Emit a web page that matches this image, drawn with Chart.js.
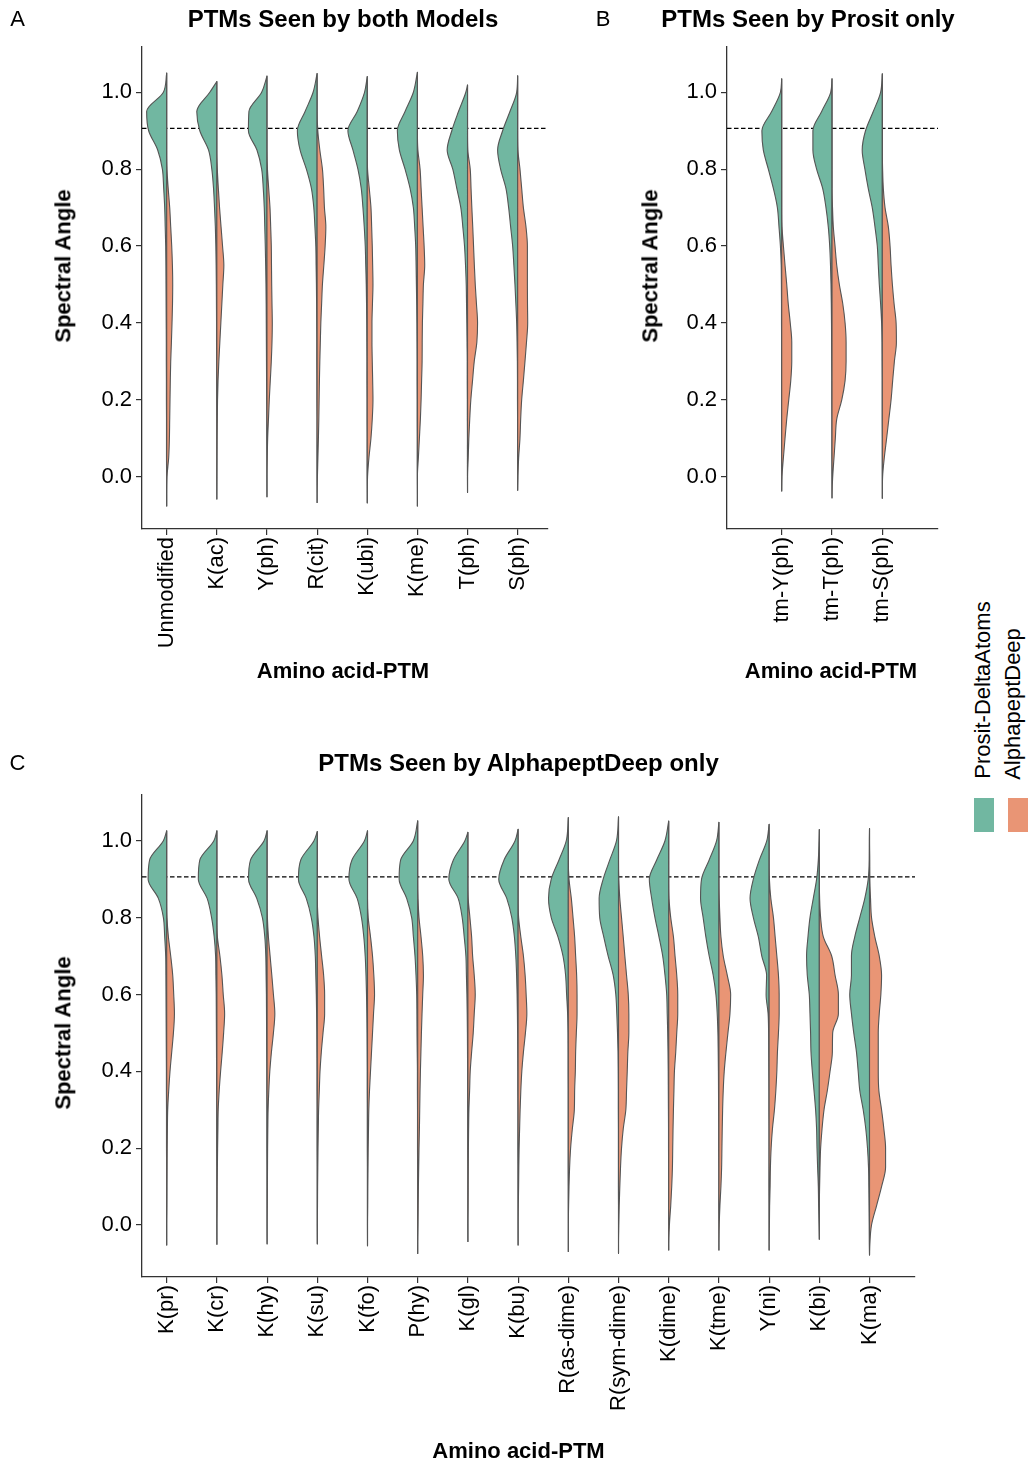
<!DOCTYPE html>
<html><head><meta charset="utf-8">
<script src="https://cdn.jsdelivr.net/npm/chart.js@4.4.1/dist/chart.umd.min.js"></script>
<style>
body{margin:0;background:#fff;}
#page{position:relative;width:1032px;height:1467px;overflow:hidden;font-family:'Liberation Sans',Arial,Helvetica,sans-serif;color:#000;background:#fff;}
canvas{position:absolute;}
.t{position:absolute;white-space:nowrap;transform:translate(-50%,-50%);line-height:1.15;}
.r{transform:translate(-50%,-50%) rotate(-90deg);}
.b{font-weight:bold;}
.sw{position:absolute;}
</style></head><body><div id="page">
<canvas id="cA" width="560" height="700" style="left:0;top:0"></canvas>
<canvas id="cB" width="370" height="700" style="left:580px;top:0"></canvas>
<canvas id="cC" width="930" height="727" style="left:0;top:740px"></canvas>

<div class="t" style="left:17.5px;top:19px;font-size:22px">A</div>
<div class="t b" style="left:343px;top:19px;font-size:24px">PTMs Seen by both Models</div>
<div class="t" style="left:603px;top:19px;font-size:22px">B</div>
<div class="t b" style="left:808px;top:19px;font-size:24px">PTMs Seen by Prosit only</div>
<div class="t" style="left:17.5px;top:763px;font-size:22px">C</div>
<div class="t b" style="left:518.5px;top:763px;font-size:24px">PTMs Seen by AlphapeptDeep only</div>

<div class="t b r" style="left:63px;top:266px;font-size:22px">Spectral Angle</div>
<div class="t b r" style="left:650px;top:266px;font-size:22px">Spectral Angle</div>
<div class="t b r" style="left:63px;top:1033px;font-size:22px">Spectral Angle</div>
<div class="t b" style="left:343px;top:671px;font-size:22px">Amino acid-PTM</div>
<div class="t b" style="left:831px;top:671px;font-size:22px">Amino acid-PTM</div>
<div class="t b" style="left:518.5px;top:1451px;font-size:22px">Amino acid-PTM</div>

<div class="t r" style="left:983px;top:690px;font-size:22px">Prosit-DeltaAtoms</div>
<div class="t r" style="left:1013px;top:703.5px;font-size:22px">AlphapeptDeep</div>
<div class="sw" style="left:974px;top:798px;width:20px;height:34px;background:#71b7a1"></div>
<div class="sw" style="left:1008px;top:798px;width:20px;height:34px;background:#e99575"></div>
</div>
<script>
// ---------------- data ----------------
const gridY = [1.0,0.95,0.9,0.85,0.8,0.75,0.7,0.65,0.6,0.55,0.5,0.45,0.4,0.35,0.3,0.25,0.2,0.15,0.1,0.05,0.0,-0.05];
const yTicks = [0,0.2,0.4,0.6,0.8,1.0];
const refLine = 0.906;
const seriesNames = ['Prosit-DeltaAtoms','AlphapeptDeep'];

const catsA = ['Unmodified','K(ac)','Y(ph)','R(cit)','K(ubi)','K(me)','T(ph)','S(ph)'];
const rangeA = [[-0.076,1.050],[-0.058,1.028],[-0.052,1.042],[-0.067,1.049],[-0.068,1.041],[-0.076,1.052],[-0.041,1.019],[-0.035,1.043]];
const prositA = [
 [3.3,20,18,9,4.3,3,2,1.5,1,0.8,0.7,0.6,0.5,0.4,0.4,0.3,0.3,0.2,0.2,0.2,0.1,0.1],
 [7,20,17,8.3,5,3.3,2.3,1.5,1,0.7,0.5,0.4,0.3,0.3,0.2,0.2,0.2,0.1,0.1,0.1,0.1,0],
 [5.3,18,18.5,10,5.3,3.7,2.7,2.2,1.7,1.3,1,0.8,0.7,0.6,0.5,0.4,0.3,0.2,0.2,0.1,0.1,0],
 [4,12,19.7,17,10.7,5.7,3.3,2.2,1.3,1,0.7,0.5,0.4,0.3,0.3,0.2,0.2,0.1,0.1,0.1,0.1,0],
 [2.7,10,19.3,14.3,9.3,6,4.3,3,2,1.5,1,0.7,0.5,0.4,0.3,0.3,0.2,0.2,0.1,0.1,0.1,0],
 [4,12.3,20,18,12.3,7.3,4,2.7,1.7,1.3,1,0.7,0.5,0.4,0.3,0.3,0.2,0.2,0.1,0.1,0.1,0],
 [1.7,9,15.7,20.3,14.7,10.7,6.7,4.7,3,2,1.3,1,0.7,0.5,0.3,0.3,0.2,0.2,0.1,0.1,0.1,0],
 [1,7.7,15,20,17,11.7,9,7,5,3.8,2.7,1.8,1,0.6,0.3,0.2,0.2,0.1,0.1,0.1,0,0]
];
const alphaA = [
 [0,0,0,0,0.3,1.5,3,4,5,5.7,6,5.8,5.3,4.7,4,3.6,3.3,3,2.7,2,0.3,0],
 [0,0,0,0,0.5,1.5,2.7,4.2,5.7,7,6,5,4,3,2,1.2,0.7,0.5,0.3,0.2,0.1,0],
 [0,0,0,0,0.5,1.7,3,3.7,4.3,4.5,4.7,5,5.3,5,4.3,3.3,2.3,1.5,0.7,0.3,0,0],
 [0,0,0.7,2.7,5.3,6.5,7.3,8.7,8,6.7,5.3,4.5,3.7,3.2,2.7,2.3,2,1.7,1.3,0.8,0.3,0],
 [0,0,0,0,0.3,2,3.7,4.4,5,5.4,5.7,5.2,4.7,4.7,5,5.4,5.7,5,3.7,1.7,0.3,0],
 [0,0,0,0.5,2.7,3.7,4.7,5.7,6.7,7.3,6,5.5,5,4.8,4.7,4.2,3.7,3,2,1,0,0],
 [0,0,0,0.3,2.7,3.5,4.3,5.2,6,6.8,7.7,8.9,10,9.3,6.7,5,3.3,2.2,1.3,0.7,0,0],
 [0,0,0,0.3,2.3,4,5.7,8.3,9.7,9.7,9.7,9.8,10,8.8,7.3,5.7,4,3,2.3,1,0.3,0]
];

const catsB = ['tm-Y(ph)','tm-T(ph)','tm-S(ph)'];
const rangeB = [[-0.037,1.035],[-0.055,1.035],[-0.056,1.048]];
const prositB = [
 [1.3,10,19.7,18.3,13.3,8.3,4.3,2.7,1.3,0.5,0.3,0.2,0.2,0.1,0.1,0.1,0.1,0.1,0.1,0.1,0,0],
 [1.3,10.3,19,19,15.3,9.3,6,3.7,2.3,1.5,1,0.7,0.5,0.4,0.3,0.2,0.2,0.1,0.1,0.1,0,0],
 [1.7,9,16.7,20,17.3,14,10,7.3,5,4,3,1.7,0.7,0.3,0.2,0.1,0.1,0.1,0,0,0,0]
];
const alphaB = [
 [0,0,0,0,0,0,0,0.3,1.7,3.3,5,6.5,8.5,10,10,9,7,5,3.3,1.7,0.3,0],
 [0,0,0,0,0,0,0.5,1.3,3,4.7,7.3,10.7,13,14,14,13,9.7,4.7,3.3,2,0.7,0],
 [0,0,0,0,0.3,1,2.7,6,7.7,8.7,10,11.7,13.7,14,12,10.3,8.7,6.5,4.3,2,0.3,0]
];

const catsC = ['K(pr)','K(cr)','K(hy)','K(su)','K(fo)','P(hy)','K(gl)','K(bu)','R(as-dime)','R(sym-dime)','K(dime)','K(tme)','Y(ni)','K(bi)','K(ma)'];
const rangeC = [[-0.052,1.026],[-0.050,1.026],[-0.049,1.026],[-0.049,1.024],[-0.054,1.026],[-0.074,1.052],[-0.043,1.022],[-0.052,1.030],[-0.069,1.060],[-0.074,1.062],[-0.065,1.051],[-0.065,1.048],[-0.065,1.043],[-0.037,1.029],[-0.078,1.032]];
const prositC = [
 [3.3,17,18.5,8.3,3.3,2,1,0.8,0.7,0.6,0.5,0.4,0.3,0.3,0.2,0.2,0.2,0.1,0.1,0.1,0.1,0],
 [3,17,18.5,9.7,5.3,2.7,1.3,1,0.7,0.6,0.5,0.4,0.3,0.3,0.2,0.2,0.2,0.1,0.1,0.1,0.1,0],
 [3,16.5,18.5,10.3,4.7,2.3,1.3,1,0.7,0.6,0.5,0.4,0.3,0.3,0.2,0.2,0.2,0.1,0.1,0.1,0.1,0],
 [3.3,16.5,18.8,11,6,3.3,2,1.5,1,0.7,0.5,0.4,0.3,0.3,0.2,0.2,0.2,0.1,0.1,0.1,0.1,0],
 [3,15.5,18.5,10.3,6,3.7,2.3,1.5,1,0.7,0.5,0.4,0.3,0.3,0.2,0.2,0.2,0.1,0.1,0.1,0.1,0],
 [4.3,17,18.5,11,6,4.3,2.7,1.7,1,0.8,0.7,0.5,0.3,0.3,0.2,0.2,0.2,0.1,0.1,0.1,0.1,0],
 [3,14.5,19,9.7,5.7,3.7,2,1.5,1,0.7,0.5,0.4,0.3,0.3,0.2,0.2,0.2,0.1,0.1,0.1,0.1,0],
 [3,14,19.3,11.3,6.3,3.7,2.3,1.5,1,0.7,0.5,0.4,0.3,0.3,0.2,0.2,0.2,0.1,0.1,0.1,0.1,0],
 [2,9.3,17,19.7,17,10.3,5.3,2.7,1.7,0.7,0.3,0.2,0.2,0.1,0.1,0.1,0.1,0.1,0,0,0,0],
 [2,8.7,15.3,19.3,18.7,14.7,10.3,5.3,2.7,1.7,1,0.5,0.3,0.2,0.2,0.1,0.1,0.1,0.1,0,0,0],
 [3.7,12,19.3,17,13.7,9.7,6,3.7,2,1.5,1,0.7,0.5,0.4,0.3,0.2,0.2,0.1,0.1,0.1,0,0],
 [2.3,9.7,17.3,18.3,15.7,13,9.7,5.7,3,1.7,1,0.7,0.5,0.4,0.3,0.2,0.2,0.1,0.1,0.1,0,0],
 [2.3,9.7,15.7,19,15.7,10.7,7.3,2.5,3,1,0.5,0.4,0.3,0.2,0.2,0.1,0.1,0.1,0.1,0,0,0],
 [0.3,1,2.7,6,9.3,11.3,12.7,12,10,9.3,8.7,8.3,7,5.3,3.7,2.7,2.3,1.7,1,0.7,0.3,0],
 [0.2,0.3,1.3,4.7,9.7,14.7,18,18,19.7,18,15.7,13,11.3,9.7,6.3,3.7,2,1,0.7,0.5,0.3,0.2]
];
const alphaC = [
 [0,0,0,0,0.3,1.7,4,6,7,7.7,6.7,5,3.3,2,1,0.7,0.5,0.4,0.3,0.2,0,0],
 [0,0,0,0,0,0.5,3,5,6.3,7.7,6.7,5.3,3.7,2.3,1.3,1,0.7,0.5,0.3,0.2,0,0],
 [0,0,0,0,0.3,1.3,3,4.7,6.3,7.7,6.3,4.3,2.7,1.7,1,0.7,0.5,0.4,0.3,0.2,0,0],
 [0,0,0,0,0.7,2.3,4.3,6.3,7.3,7.3,5.7,4,2.7,2,1.3,1,0.7,0.5,0.3,0.2,0,0],
 [0,0,0,0,0.7,3,5,6.3,7,6,5,4,3,2,1.3,1,0.7,0.5,0.3,0.2,0,0],
 [0,0,0,0.3,1.3,3.3,5,5.7,5,4.3,3.7,3.2,2.7,2.3,2,1.7,1.3,1,0.7,0.5,0.3,0],
 [0,0,0,0.3,2,3.7,4.7,6.3,7.3,6.3,5.3,3.7,2.3,1.7,1,0.7,0.5,0.4,0.3,0.2,0,0],
 [0,0,0,0,0.5,2.7,5.3,7,8,8.7,7.3,5.3,3.7,2.7,2,1.5,1,0.7,0.5,0.2,0,0],
 [0,0,0.7,3,4.7,6.3,7.3,8.3,8.7,8.7,8,7.3,7,6.3,6,4,2.3,1.3,0.7,0.3,0,0],
 [0,0,0.3,1.3,3,4.7,6.3,8,9.7,10.3,10.3,9.3,8.7,8,7.3,4.7,3,2,1.3,0.7,0.3,0],
 [0,0,0,0.3,2,4.7,6.3,8,9,9,8,7,5.7,5.2,4.7,4.3,4,3.7,3,2,0.7,0],
 [0,0,0,0.3,1,2,4.3,8.3,11.7,11,9,7,5.3,4.3,3.7,3.3,3,2.7,2,1,0.3,0],
 [0,0,0.3,1.7,4.3,6,7.7,9.3,10,10,9.3,8.3,7.7,6.7,5.3,3.3,2,1.3,1,0.5,0.3,0],
 [0,0,0,0.3,1.3,4,12.3,15.7,19,19,13.3,13,10.7,8,4.7,2.7,1.3,0.7,0.3,0,0,0],
 [0,0.2,0.3,1,2,5.3,9.7,12,11.3,9.7,8.7,8.7,8.7,9.3,12,14.3,16,16,12,7,2,0.3]
];

// ---------------- style ----------------
const GREEN = '#71b7a1', ORANGE = '#e99575', EDGE = '#555555', AXIS = '#333333';
const DENSITY_SCALE = 0.02;   // x-axis units per density unit
Chart.defaults.font.family = "'Liberation Sans', Arial, Helvetica, sans-serif";
Chart.defaults.color = '#000';

function drawHalf(ctx, xs, ys, i, rng, dens, side, color) {
  const pts = [[rng[1], 0]];
  gridY.forEach((y, k) => { if (y < rng[1] - 0.004 && y > rng[0] + 0.004) pts.push([y, dens[k]]); });
  pts.push([rng[0], 0]);
  const cx = xs.getPixelForValue(i);
  const T = pts.map(p => ys.getPixelForValue(p[0]));
  const V = pts.map(p => Math.abs(xs.getPixelForValue(i + p[1] * DENSITY_SCALE) - cx));
  const n = T.length, d = [], m = new Array(n).fill(0);
  for (let k = 0; k < n - 1; k++) d[k] = (V[k + 1] - V[k]) / (T[k + 1] - T[k]);
  m[0] = d[0]; m[n - 1] = d[n - 2];
  for (let k = 1; k < n - 1; k++) m[k] = (d[k - 1] * d[k] <= 0) ? 0 : (d[k - 1] + d[k]) / 2;
  for (let k = 0; k < n - 1; k++) {
    if (d[k] === 0) { m[k] = 0; m[k + 1] = 0; continue; }
    const a = m[k] / d[k], b = m[k + 1] / d[k], s = a * a + b * b;
    if (s > 9) { const t = 3 / Math.sqrt(s); m[k] = t * a * d[k]; m[k + 1] = t * b * d[k]; }
  }
  ctx.beginPath();
  ctx.moveTo(cx, T[0]);
  for (let k = 0; k < n - 1; k++) {
    const h = T[k + 1] - T[k];
    ctx.bezierCurveTo(cx + side * (V[k] + m[k] * h / 3), T[k] + h / 3,
                      cx + side * (V[k + 1] - m[k + 1] * h / 3), T[k + 1] - h / 3,
                      cx + side * V[k + 1], T[k + 1]);
  }
  ctx.closePath();
  ctx.fillStyle = color; ctx.fill();
  ctx.strokeStyle = EDGE; ctx.lineWidth = 1.1; ctx.stroke();
}

function violinPlugin(cats, ranges, leftSeries, rightSeries) {
  return {
    id: 'splitViolins',
    afterDatasetsDraw(chart) {
      const ctx = chart.ctx, xs = chart.scales.x, ys = chart.scales.y;
      ctx.save();
      ctx.lineJoin = 'round';
      cats.forEach((c, i) => {
        drawHalf(ctx, xs, ys, i, ranges[i], leftSeries[i], -1, GREEN);
        drawHalf(ctx, xs, ys, i, ranges[i], rightSeries[i], 1, ORANGE);
      });
      ctx.restore();
    }
  };
}

function makeChart(id, cats, ranges, leftSeries, rightSeries, xr, yr, yW, xH, pad) {
  return new Chart(document.getElementById(id), {
    type: 'scatter',
    data: { datasets: [{
      label: 'reference',
      data: [{ x: xr[0], y: refLine }, { x: xr[1], y: refLine }],
      showLine: true, borderColor: '#000', borderWidth: 1.2, borderDash: [4.5, 2.5],
      pointRadius: 0, fill: false
    }]},
    options: {
      responsive: false, animation: false, devicePixelRatio: 1, events: [],
      layout: { padding: pad },
      plugins: { legend: { display: false }, tooltip: { enabled: false }, title: { display: false } },
      scales: {
        x: {
          type: 'linear', min: xr[0], max: xr[1],
          afterBuildTicks: s => { s.ticks = cats.map((c, i) => ({ value: i })); },
          afterFit: s => { s.height = xH; s.paddingLeft = 0; s.paddingRight = 0; },
          ticks: { autoSkip: false, minRotation: 90, maxRotation: 90, padding: 2,
                   font: { size: 22 }, color: '#000', callback: v => cats[Math.round(v)] },
          grid: { display: true, drawOnChartArea: false, drawTicks: true, tickLength: 6, color: AXIS, lineWidth: 1.2 },
          border: { display: true, color: AXIS, width: 1.3 }
        },
        y: {
          type: 'linear', min: yr[0], max: yr[1],
          afterBuildTicks: s => { s.ticks = yTicks.map(v => ({ value: v })); },
          afterFit: s => { s.width = yW; s.paddingTop = 0; s.paddingBottom = 0; },
          ticks: { padding: 4, font: { size: 22 }, color: '#000', callback: v => Number(v).toFixed(1) },
          grid: { display: true, drawOnChartArea: false, drawTicks: true, tickLength: 6, color: AXIS, lineWidth: 1.2 },
          border: { display: true, color: AXIS, width: 1.3 }
        }
      }
    },
    plugins: [violinPlugin(cats, ranges, leftSeries, rightSeries)]
  });
}

makeChart('cA', catsA, rangeA, prositA, alphaA, [-0.4926, 7.605], [-0.136, 1.1178], 142, 171, { left: 0, top: 47, right: 12, bottom: 0 });
makeChart('cB', catsB, rangeB, prositB, alphaB, [-1.0875, 3.107], [-0.136, 1.1178], 147, 171, { left: 0, top: 47, right: 12, bottom: 0 });
makeChart('cC', catsC, rangeC, prositC, alphaC, [-0.492, 14.906], [-0.1353, 1.119], 142, 190, { left: 0, top: 55, right: 15, bottom: 0 });
</script>
</body></html>
